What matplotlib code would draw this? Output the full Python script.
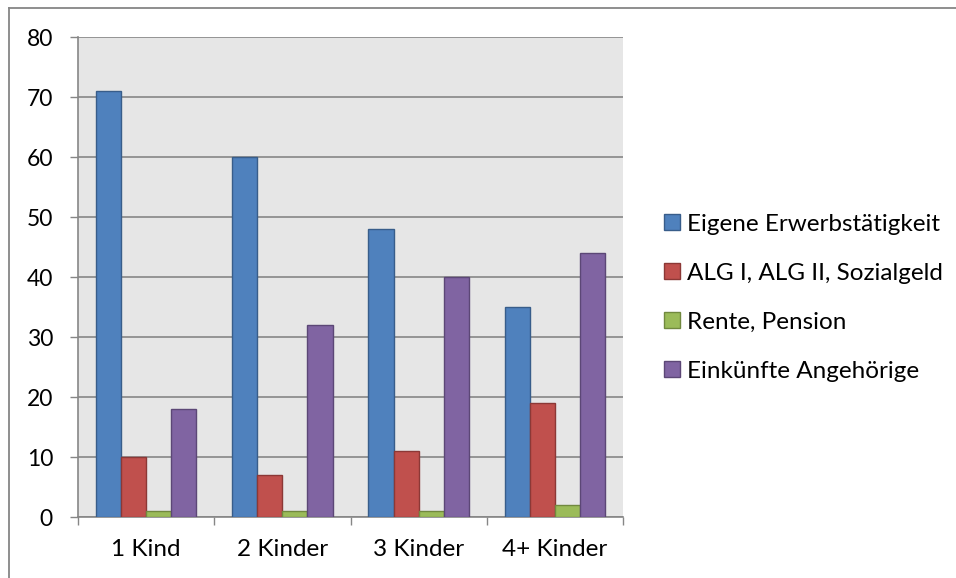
import matplotlib
matplotlib.use("Agg")
import matplotlib.pyplot as plt
from matplotlib.patches import Rectangle
from matplotlib.lines import Line2D
import numpy as np

categories = ["1 Kind", "2 Kinder", "3 Kinder", "4+ Kinder"]
series_names = ["Eigene Erwerbstätigkeit", "ALG I, ALG II, Sozialgeld",
                "Rente, Pension", "Einkünfte Angehörige"]
erwerb = [71, 60, 48, 35]
alg = [10, 7, 11, 19]
rente = [1, 1, 1, 2]
angehoerige = [18, 32, 40, 44]
yticks = [0, 10, 20, 30, 40, 50, 60, 70, 80]

colors = ["#4F81BD", "#C0504D", "#9BBB59", "#8064A2"]
edges = ["#385D8A", "#8C3836", "#71893F", "#5C4776"]

plt.rcParams['font.family'] = ['Lato', 'DejaVu Sans']
FS = 16.5
FS_TXT = 17.5

fig = plt.figure(figsize=(9.56, 5.78), dpi=100)
ax = fig.add_axes([78/956, 61/578, (623-78)/956, (517-37)/578])
ax.set_facecolor("#E6E6E6")

x = np.arange(len(categories))
w = 0.184
data = [erwerb, alg, rente, angehoerige]
for i, vals in enumerate(data):
    ax.bar(x + (i - 1.5) * w, vals, width=w, color=colors[i],
           edgecolor=edges[i], linewidth=1.0, zorder=3, label=series_names[i])

ax.set_xlim(-0.5, 3.5)
ax.set_ylim(0, 80)
ax.set_yticks(yticks)
ax.yaxis.grid(True, color="#868686", linewidth=1.2, zorder=1)
ax.set_axisbelow(True)

ax.set_xticks([-0.5, 0.5, 1.5, 2.5, 3.5])
ax.set_xticklabels([])
ax.set_xticks(x, minor=True)
ax.set_xticklabels(categories, minor=True)
ax.tick_params(axis='x', which='major', length=6, width=1, color="#868686", direction='out')
ax.tick_params(axis='x', which='minor', length=0, pad=16, labelsize=FS_TXT)
ax.tick_params(axis='y', length=6, width=1, color="#868686", direction='out', pad=12, labelsize=FS)

for s in ["top", "right"]:
    ax.spines[s].set_visible(False)
ax.spines["left"].set_color("#868686")
ax.spines["bottom"].set_color("#868686")
ax.spines["left"].set_linewidth(1.2)
ax.spines["bottom"].set_linewidth(1.2)

handles = [Rectangle((0, 0), 1, 1, facecolor=colors[i], edgecolor=edges[i], linewidth=1.0)
           for i in range(4)]
leg = fig.legend(handles, series_names, loc="upper left",
                 bbox_to_anchor=(654/956, 1 - 204/578), frameon=False,
                 fontsize=FS_TXT, handlelength=0.65, handleheight=0.65,
                 handletextpad=0.3, labelspacing=1.15, borderaxespad=0)

# outer chart border (only top and left visible)
fig.add_artist(Line2D([9/956, 1.0], [1 - 8/578, 1 - 8/578], transform=fig.transFigure,
                      color="#868686", linewidth=1.3))
fig.add_artist(Line2D([9/956, 9/956], [0, 1 - 8/578], transform=fig.transFigure,
                      color="#868686", linewidth=1.3))

fig.savefig("out.png", dpi=100)
